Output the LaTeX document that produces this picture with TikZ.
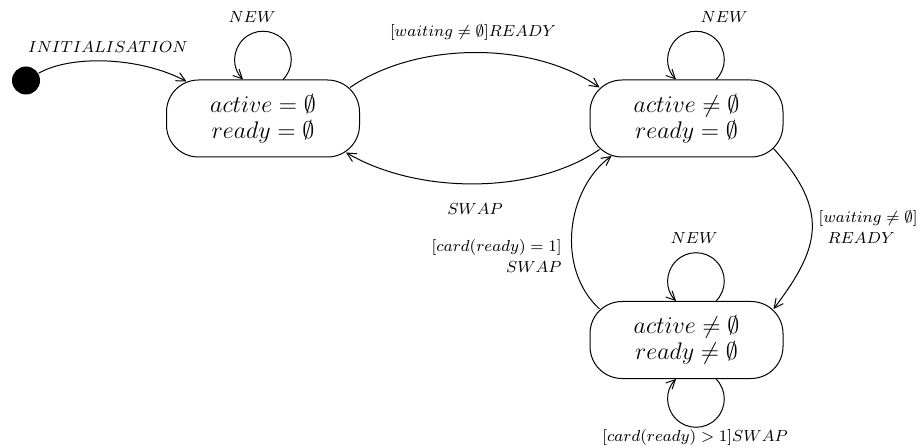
\documentclass[tikz,border=0pt]{standalone}
\usetikzlibrary{arrows.meta,calc}
\begin{document}
\begin{tikzpicture}[x=0.5pt,y=0.5pt,
  state/.style={draw,line width=0.5pt,rounded corners=16pt,minimum width=96.5pt,minimum height=38.5pt,inner sep=0pt,align=center,font=\fontsize{11.5}{14}\selectfont},
  lbl/.style={inner sep=0pt,font=\fontsize{8.3}{10.5}\selectfont},
  conn/.style={line width=0.5pt,-{Straight Barb[length=4.5pt,width=4.5pt]}},
  initdot/.style={circle,fill=black,minimum size=14pt,inner sep=0pt}]
\useasboundingbox (0,0) rectangle (920,-448);
\node[initdot] (init) at (26,-80.5) {};
\node[state] (A) at (263,-118.5) {$active=\emptyset$\\[-1pt]$ready=\emptyset$};
\node[state] (B) at (686.5,-118.5) {$active\neq\emptyset$\\[-1pt]$ready=\emptyset$};
\node[state] (C) at (686.5,-340) {$active\neq\emptyset$\\[-1pt]$ready\neq\emptyset$};
% initial
\draw[conn] (init.30) .. controls +(32,18.5) and +(-47,25) .. ([shift={(20.5,-2)}]A.north west);
\node[lbl] (linit) at (108,-47) {$INITIALISATION$};
% loops
\draw[conn] ([xshift=10pt]A.north) arc[start angle=-45,end angle=225,radius=14.14pt];
\node[lbl] (lnewA) at (252,-17) {$NEW$};
\draw[conn] ([xshift=14.75pt]B.north) arc[start angle=-45,end angle=225,radius=14.14pt];
\node[lbl] (lnewB) at (724,-17) {$NEW$};
\draw[conn] ([xshift=14.75pt]C.north) arc[start angle=-45,end angle=225,radius=14.14pt];
\node[lbl] (lnewC) at (694,-238) {$NEW$};
\draw[conn] ([xshift=14.75pt]C.south) arc[start angle=45,end angle=-225,radius=14.14pt];
\node[lbl] (lswapC) at (695,-437) {$[card(ready)>1]SWAP$};
% A -> B
\draw[conn] ([shift={(-10,-8)}]A.north east) .. controls +(67.5,46.5) and +(-66.5,46.5) .. ([shift={(10,-8)}]B.north west);
\node[lbl] (lready) at (473,-33) {$[waiting\neq\emptyset]READY$};
% B -> A
\draw[conn] ([shift={(10,8)}]B.south west) .. controls +(-66.5,-45.5) and +(71.5,-42) .. ([shift={(-14,5)}]A.south east);
\node[lbl] (lswap) at (475,-209) {$SWAP$};
% C -> B
\draw[conn] ([shift={(10,-8)}]C.north west) .. controls +(-44,40.5) and +(-45,-33) .. ([shift={(22,1.5)}]B.south west);
\node[lbl,align=right,anchor=east] (lswap1) at (562,-256) {$[card(ready)=1]$\\$SWAP$};
% B -> C
\draw[conn] ([shift={(-10,9)}]B.south east) .. controls +(57,-63) and +(46,60.5) .. ([shift={(-10,-8)}]C.north east);
\node[lbl,align=left,anchor=east] (lready2) at (918,-227) {$[waiting\neq\emptyset]$\\\hspace{4.5pt}$READY$};
\end{tikzpicture}
\end{document}
